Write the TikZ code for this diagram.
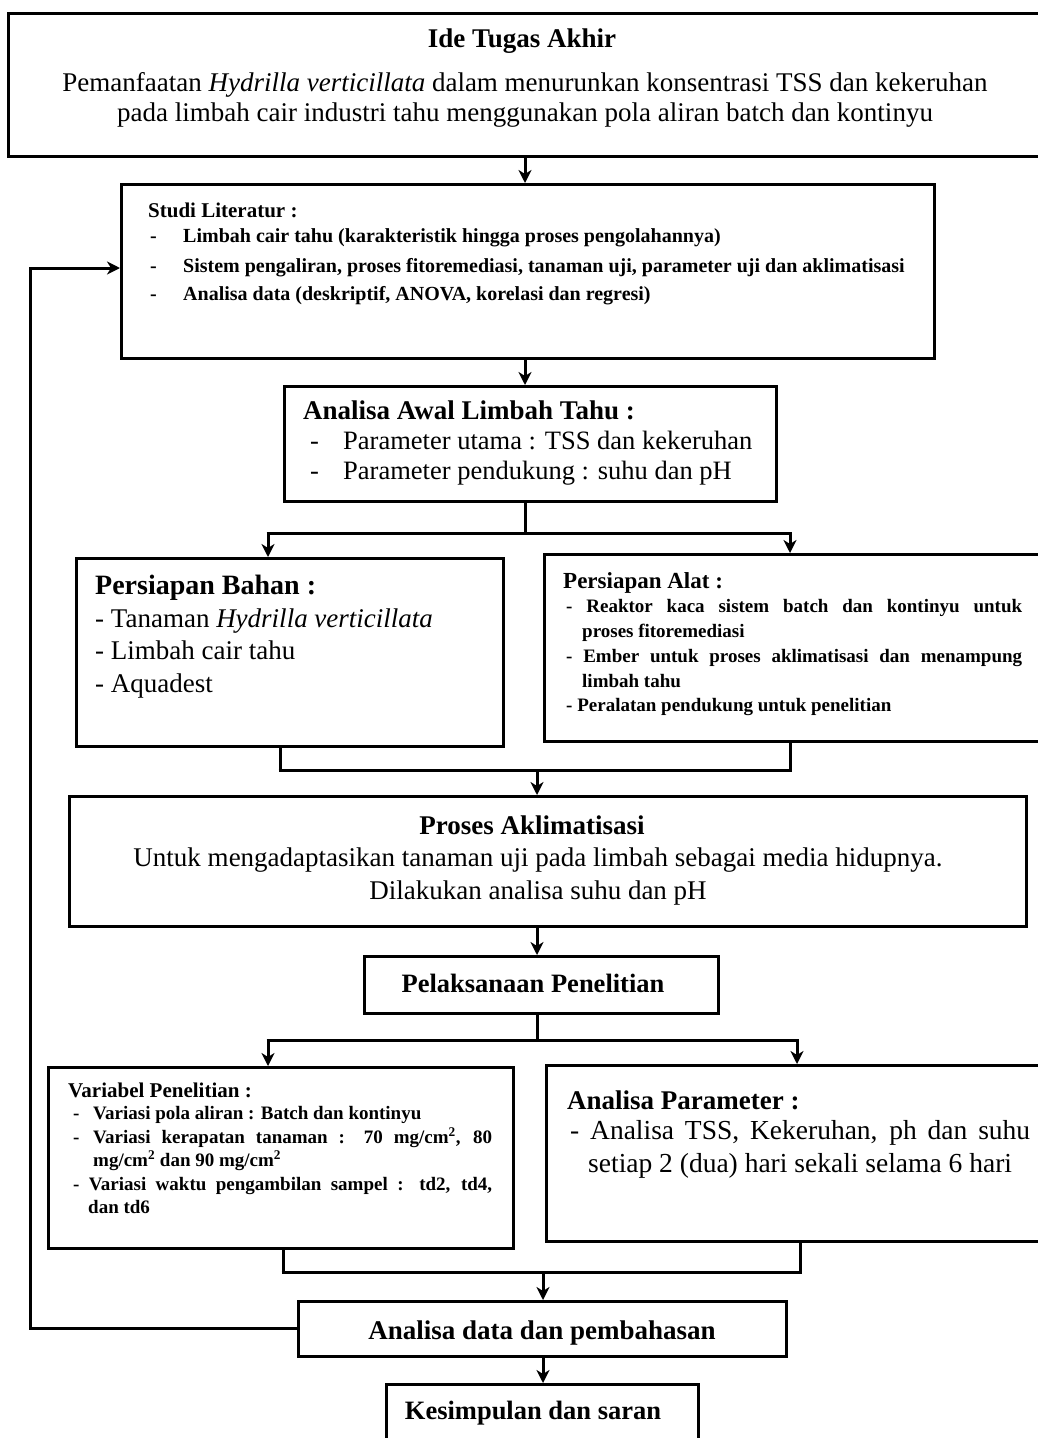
\documentclass[tikz,border=0pt]{standalone}
\usepackage{fontspec}
\setmainfont{Liberation Serif}
\usetikzlibrary{arrows.meta}
\newcommand\fs[1]{\fontsize{#1}{#1}\selectfont}
\begin{document}
\begin{tikzpicture}[x=1pt,y=-1pt,
  box/.style={draw, line width=2.8pt, inner sep=0pt, anchor=north west},
  conn/.style={line width=3pt},
  arr/.style={line width=3pt, -{Stealth[length=13pt,width=13pt,inset=4pt]}},
  tl/.style={inner sep=0pt, anchor=base west},
  tc/.style={inner sep=0pt, anchor=base}]
\useasboundingbox (0,0) rectangle (1037,1438);
\fill[white] (0,0) rectangle (1037,1438);

% ---------- boxes ----------
\node[box, minimum width=1040pt, minimum height=143pt] (ide) at (7,12) {};
\node[box, minimum width=813pt, minimum height=174pt] (studi) at (120,183) {};
\node[box, minimum width=492pt, minimum height=115pt] (awal) at (283,385) {};
\node[box, minimum width=427pt, minimum height=188pt] (bahan) at (75,557) {};
\node[box, minimum width=500pt, minimum height=187pt] (alat) at (543,553) {};
\node[box, minimum width=957pt, minimum height=130pt] (proses) at (68,795) {};
\node[box, minimum width=354pt, minimum height=57pt] (pelak) at (363,955) {};
\node[box, minimum width=465pt, minimum height=181pt] (variabel) at (47,1066) {};
\node[box, minimum width=500pt, minimum height=176pt] (param) at (545,1064) {};
\node[box, minimum width=488pt, minimum height=55pt] (adata) at (297,1300) {};
\node[box, minimum width=312pt, minimum height=70pt] (kesimp) at (385,1383) {};

% ---------- texts ----------
\node[tc, font=\bfseries\fs{27}] (t1) at (522,47) {Ide Tugas Akhir};
\node[tc, font=\fs{27}] (t2) at (525,91) {Pemanfaatan \textit{Hydrilla verticillata} dalam menurunkan konsentrasi TSS dan kekeruhan};
\node[tc, font=\fs{27}] (t3) at (525,121) {pada limbah cair industri tahu menggunakan pola aliran batch dan kontinyu};

\node[tl, font=\bfseries\fs{21}] (t4) at (148,217) {Studi Literatur :};
\node[tl, font=\bfseries\fs{20}] (t5a) at (150,242) {-};
\node[tl, font=\bfseries\fs{20}] (t5) at (183,242) {Limbah cair tahu (karakteristik hingga proses pengolahannya)};
\node[tl, font=\bfseries\fs{20}] (t6a) at (150,272) {-};
\node[tl, font=\bfseries\fs{20}] (t6) at (183,272) {Sistem pengaliran, proses fitoremediasi, tanaman uji, parameter uji dan aklimatisasi};
\node[tl, font=\bfseries\fs{20}] (t7a) at (150,300) {-};
\node[tl, font=\bfseries\fs{20}] (t7) at (183,300) {Analisa data (deskriptif, ANOVA, korelasi dan regresi)};

\node[tl, font=\bfseries\fs{27}] (t8) at (303,419) {Analisa Awal Limbah Tahu :};
\node[tl, font=\fs{26.5}] (t9a) at (310,449) {-};
\node[tl, font=\fs{26.5}] (t9) at (343,449) {Parameter utama : TSS dan kekeruhan};
\node[tl, font=\fs{26.5}] (t10a) at (310,479) {-};
\node[tl, font=\fs{26.5}] (t10) at (343,479) {Parameter pendukung : suhu dan pH};

\node[tl, font=\bfseries\fs{28}] (t11) at (95,594) {Persiapan Bahan :};
\node[tl, font=\fs{27}] (t12) at (95,627) {- Tanaman \textit{Hydrilla verticillata}};
\node[tl, font=\fs{27}] (t13) at (95,659) {- Limbah cair tahu};
\node[tl, font=\fs{27}] (t14) at (95,692) {- Aquadest};

\node[tl, font=\bfseries\fs{23}] (t15) at (563,588) {Persiapan Alat :};
\node[tl, font=\bfseries\fs{19}] (t16) at (566,612) {\makebox[456pt][s]{- Reaktor kaca sistem batch dan kontinyu untuk}};
\node[tl, font=\bfseries\fs{19}] (t17) at (582,637) {proses fitoremediasi};
\node[tl, font=\bfseries\fs{19}] (t18) at (566,662) {\makebox[456pt][s]{- Ember untuk proses aklimatisasi dan menampung}};
\node[tl, font=\bfseries\fs{19}] (t19) at (582,687) {limbah tahu};
\node[tl, font=\bfseries\fs{19}] (t20) at (566,711) {- Peralatan pendukung untuk penelitian};

\node[tc, font=\bfseries\fs{27}] (t21) at (532,834) {Proses Aklimatisasi};
\node[tc, font=\fs{27}] (t22) at (538,866) {Untuk mengadaptasikan tanaman uji pada limbah sebagai media hidupnya.};
\node[tc, font=\fs{27}] (t23) at (538,899) {Dilakukan analisa suhu dan pH};

\node[tc, font=\bfseries\fs{26.5}] (t24) at (533,992) {Pelaksanaan Penelitian};

\node[tl, font=\bfseries\fs{21}] (t25) at (68,1097) {Variabel Penelitian :};
\node[tl, font=\bfseries\fs{19}] (t26a) at (73,1119) {-};
\node[tl, font=\bfseries\fs{19}] (t26) at (93,1119) {Variasi pola aliran : Batch dan kontinyu};
\node[tl, font=\bfseries\fs{19}] (t27a) at (73,1143) {-};
\node[tl, font=\bfseries\fs{19}] (t27) at (93,1143) {\makebox[399pt][s]{Variasi kerapatan tanaman : 70 mg/cm\textsuperscript{2}, 80}};
\node[tl, font=\bfseries\fs{19}] (t28) at (93,1166) {mg/cm\textsuperscript{2} dan 90 mg/cm\textsuperscript{2}};
\node[tl, font=\bfseries\fs{19}] (t29) at (73,1190) {\makebox[419pt][s]{- Variasi waktu pengambilan sampel : td2, td4,}};
\node[tl, font=\bfseries\fs{19}] (t30) at (88,1213) {dan td6};

\node[tl, font=\bfseries\fs{27}] (t31) at (567,1109) {Analisa Parameter :};
\node[tl, font=\fs{27.5}] (t32) at (570,1139) {\makebox[460pt][s]{- Analisa TSS, Kekeruhan, ph dan suhu}};
\node[tl, font=\fs{27.5}] (t33) at (588,1172) {setiap 2 (dua) hari sekali selama 6 hari};

\node[tc, font=\bfseries\fs{27}] (t34) at (542,1339) {Analisa data dan pembahasan};
\node[tc, font=\bfseries\fs{26.5}] (t35) at (533,1419) {Kesimpulan dan saran};

% ---------- connectors ----------
\coordinate (x1) at (525,0);
\coordinate (x2) at (537,0);
\coordinate (x3) at (543,0);
\draw[arr] (x1 |- ide.south) -- (x1 |- studi.north);
\draw[arr] (x1 |- studi.south) -- (x1 |- awal.north);

\coordinate (sA) at (268,533);
\coordinate (sB) at (790,533);
\draw[conn] (x1 |- awal.south) -- (x1 |- sA);
\draw[conn] ([xshift=-1.5pt]sA) -- ([xshift=1.5pt]sB);
\draw[arr] (sA) -- (sA |- bahan.north);
\draw[arr] (sB) -- (sB |- alat.north);

\coordinate (jA) at (280,770);
\coordinate (jB) at (790,770);
\draw[conn] (jA |- bahan.south) -- (jA);
\draw[conn] (jB |- alat.south) -- (jB);
\draw[conn] ([xshift=-1.5pt]jA) -- ([xshift=1.5pt]jB);
\draw[arr] (x2 |- jA) -- (x2 |- proses.north);
\draw[arr] (x2 |- proses.south) -- (x2 |- pelak.north);

\coordinate (sC) at (268,1040);
\coordinate (sD) at (797,1040);
\draw[conn] (x2 |- pelak.south) -- (x2 |- sC);
\draw[conn] ([xshift=-1.5pt]sC) -- ([xshift=1.5pt]sD);
\draw[arr] (sC) -- (sC |- variabel.north);
\draw[arr] (sD) -- (sD |- param.north);

\coordinate (jC) at (283,1272);
\coordinate (jD) at (800,1272);
\draw[conn] (jC |- variabel.south) -- (jC);
\draw[conn] (jD |- param.south) -- (jD);
\draw[conn] ([xshift=-1.5pt]jC) -- ([xshift=1.5pt]jD);
\draw[arr] (x3 |- jC) -- (x3 |- adata.north);
\draw[arr] (x3 |- adata.south) -- (x3 |- kesimp.north);

\coordinate (fb) at (30,268);
\draw[arr] (adata.west) -| (fb) -- (fb -| studi.west);
\end{tikzpicture}
\end{document}
